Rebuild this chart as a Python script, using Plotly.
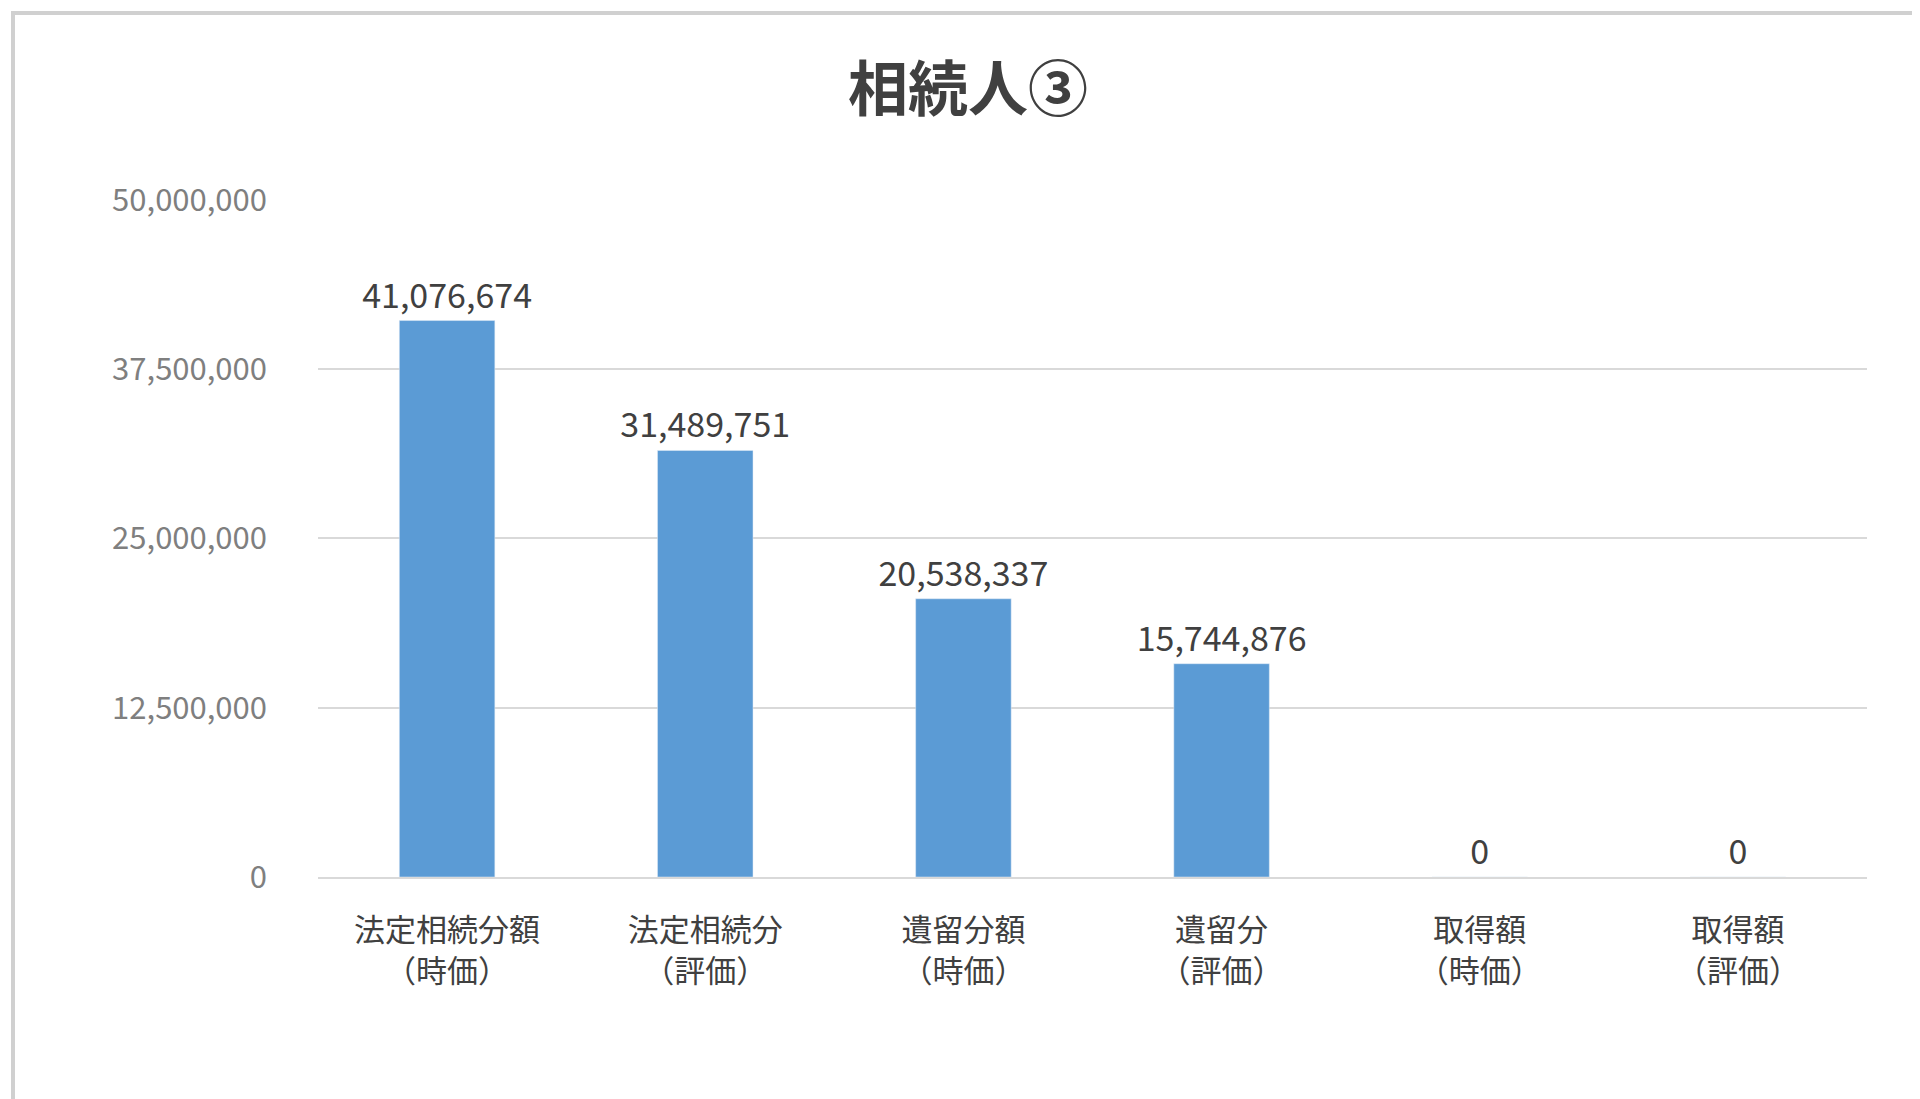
import plotly.graph_objects as go

categories = ["法定相続分額<br>（時価）", "法定相続分<br>（評価）", "遺留分額<br>（時価）",
              "遺留分<br>（評価）", "取得額<br>（時価）", "取得額<br>（評価）"]
values = [41076674, 31489751, 20538337, 15744876, 0, 0]
tick_vals = [0, 12500000, 25000000, 37500000, 50000000]

font = "Noto Sans CJK JP"

fig = go.Figure(go.Bar(
    x=categories, y=values,
    marker=dict(color="#5b9bd5"),
    texttemplate="%{y:,}", textposition="outside",
    constraintext="none",
    textfont=dict(size=34, color="#404040", family=font),
    cliponaxis=False,
))

fig.update_layout(
    width=1920, height=1099,
    paper_bgcolor="white", plot_bgcolor="white",
    margin=dict(l=310, r=61, t=191, b=230),
    title=dict(text="<b>相続人③</b>", x=0.5, xanchor="center", y=0.925, yanchor="middle",
               font=dict(size=60, color="#404040", family=font)),
    bargap=0.63,
    showlegend=False,
)
fig.update_xaxes(tickfont=dict(size=31, color="#404040", family=font),
                 showline=True, linecolor="#d9d9d9", linewidth=2, ticks="",
                 ticklabelstandoff=25)
fig.update_yaxes(range=[0, 50050000], tickvals=tick_vals, tickformat=",",
                 tickfont=dict(size=31, color="#7f7f7f", family=font),
                 gridcolor="#d9d9d9", gridwidth=2, zeroline=False, ticklen=0,
                 ticklabelstandoff=50)
fig.add_shape(type="rect", xref="paper", yref="paper",
              x0=-305/1549, x1=1 + 55/1549, y0=-224/678, y1=1 + 186/678,
              line=dict(color="#d0d0d0", width=4))

fig.write_html("out.html")
